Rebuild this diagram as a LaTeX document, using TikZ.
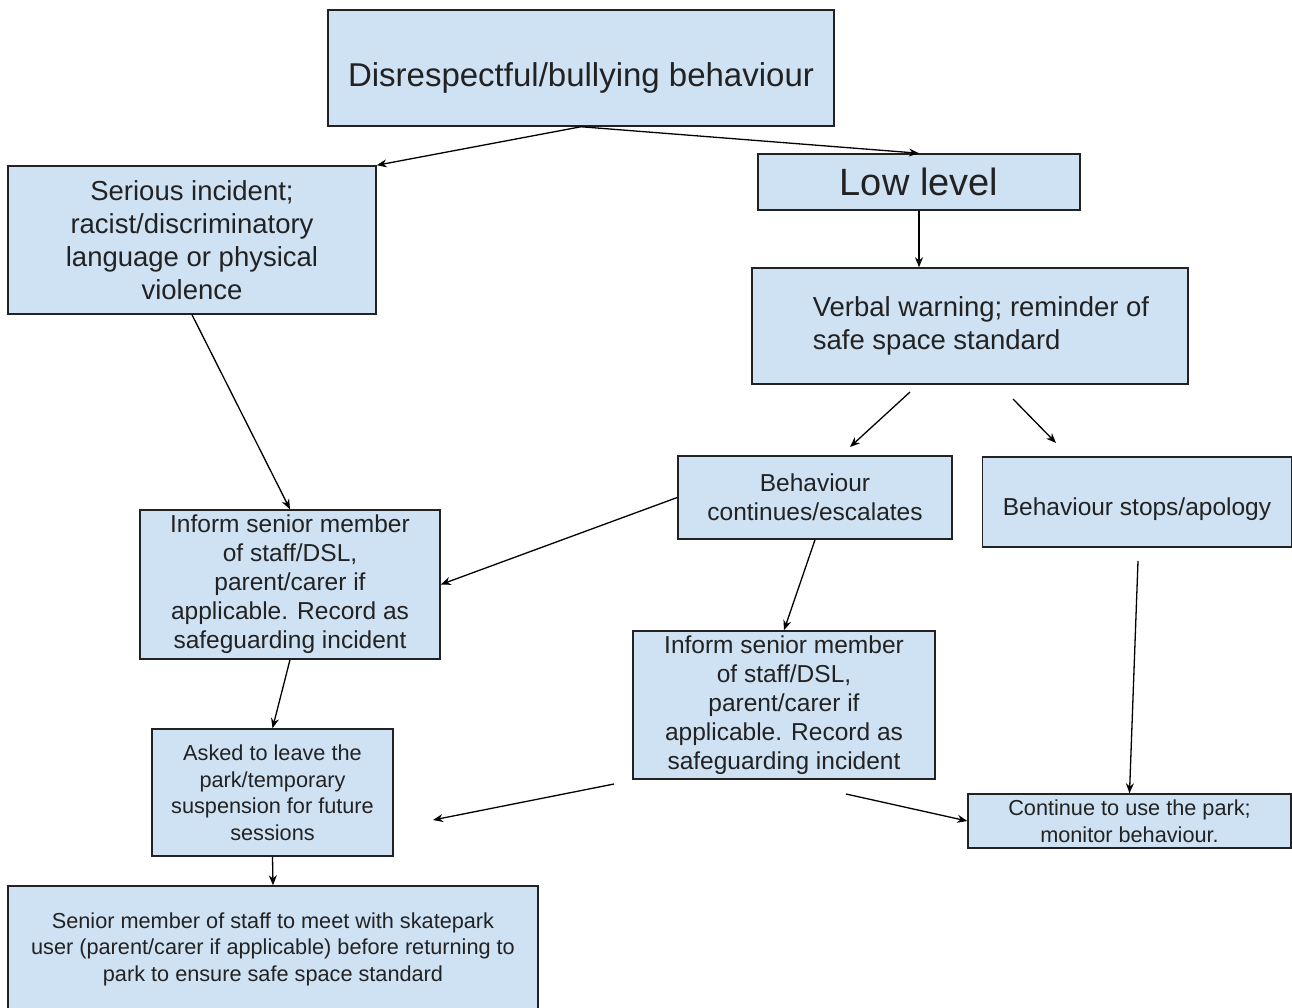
\documentclass[tikz,border=0pt]{standalone}
\usepackage{fontspec}
\setmainfont{Liberation Sans}
\usetikzlibrary{arrows.meta}
\definecolor{ink}{HTML}{222222}
\definecolor{boxblue}{HTML}{CFE2F3}

\begin{document}
\begin{tikzpicture}[x=1pt, y=-1pt,
    >={Stealth[length=10pt,width=8pt]},
    box/.style={draw=ink, fill=boxblue, line width=1.5pt, inner sep=0pt, text=ink, align=center},
    huge/.style={font=\fontsize{38}{44}\selectfont},
    big/.style={font=\fontsize{33}{38}\selectfont},
    mid/.style={font=\fontsize{27.5}{33}\selectfont},
    norm/.style={font=\fontsize{24.5}{29}\selectfont},
    small/.style={font=\fontsize{21.7}{26.5}\selectfont}]
    \useasboundingbox (0,0) rectangle (1292,1008);

    \draw (581,68) node [box,big,minimum width=506,minimum height=116,text height=45pt,text depth=7pt] (top) {Disrespectful/bullying behaviour} ;
    \draw (192,240) node [box,mid,minimum width=368,minimum height=148] (serious) {Serious incident;\\racist/discriminatory\\language or physical\\violence} ;
    \draw (919,182) node [box,huge,minimum width=322,minimum height=56] (low) {Low level} ;
    \draw (970,326) node [box,mid,minimum width=436,minimum height=116,align=left] (verbal) {\hspace*{22pt}Verbal warning; reminder of\\\hspace*{22pt}safe space standard} ;
    \draw (815,497.5) node [box,norm,minimum width=274,minimum height=83] (cont) {Behaviour\\continues/escalates} ;
    \draw (1137,502) node [box,norm,minimum width=309,minimum height=90,text height=32pt,text depth=5pt] (stops) {Behaviour stops/apology} ;
    \draw (290,584.5) node [box,norm,minimum width=300,minimum height=149] (inform) {Inform senior member\\of staff/DSL,\\parent/carer if\\applicable. Record as\\safeguarding incident} ;
    \draw (784,705) node [box,norm,minimum width=302,minimum height=148] (informb) {Inform senior member\\of staff/DSL,\\parent/carer if\\applicable. Record as\\safeguarding incident} ;
    \draw (272.5,792.5) node [box,small,minimum width=241,minimum height=127] (asked) {Asked to leave the\\park/temporary\\suspension for future\\sessions} ;
    \draw (273,949) node [box,small,minimum width=530,minimum height=126] (senior) {Senior member of staff to meet with skatepark\\user (parent/carer if applicable) before returning to\\park to ensure safe space standard} ;
    \draw (1129.5,821) node [box,small,minimum width=323,minimum height=54] (keep) {Continue to use the park;\\monitor behaviour.} ;

    \coordinate (v1) at (910,392);
    \coordinate (c1) at (850,447);
    \coordinate (v2) at (1013,399);
    \coordinate (s1) at (1056,443);
    \coordinate (b1) at (614,784);
    \coordinate (a1) at (433,820);
    \coordinate (b2) at (846,794);
    \coordinate (s2) at (1138,561);

    \draw[->, line width=1.3pt] (top.south) -- (serious.north east);
    \draw[->, line width=1.3pt] (top.south) -- (low.north);
    \draw[->, line width=1.3pt] (low.south) -- (verbal.north -| low.south);
    \draw[->, line width=1.3pt] (v1) -- (c1);
    \draw[->, line width=1.3pt] (v2) -- (s1);

    \draw[->, line width=1.3pt] (serious.south) -- (inform.north);
    \draw[->, line width=1.3pt] (cont.west) -- (inform.east);
    \draw[->, line width=1.3pt] (cont.south) -- (informb.north);
    \draw[->, line width=1.3pt] (inform.south) -- (asked.north);
    \draw[->, line width=1.3pt] (asked.south) -- (senior.north);

    \draw[->, line width=1.3pt] (b1) -- (a1);
    \draw[->, line width=1.3pt] (b2) -- (keep.west);
    \draw[->, line width=1.3pt] (s2) -- (keep.north);
\end{tikzpicture}
\end{document}
